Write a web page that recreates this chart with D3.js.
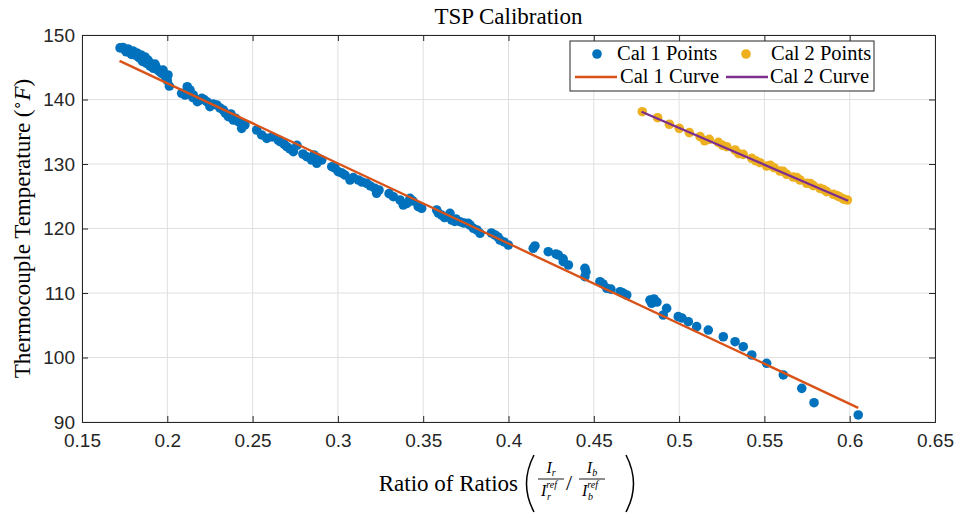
<!DOCTYPE html>
<html><head><meta charset="utf-8">
<script src="https://cdn.jsdelivr.net/npm/d3@7"></script>
<style>body{margin:0;background:#fff}svg{display:block}</style>
</head><body>
<svg id="c" width="957" height="513"></svg>
<script>
// ---- data ----
const cal1X = [0.1723,0.1740,0.1752,0.1770,0.1781,0.1799,0.1811,0.1822,0.1840,0.1846,0.1859,0.1869,0.1879,0.1887,0.1899,0.1918,0.1928,0.1947,0.1967,0.1975,0.1987,0.2000,0.2012,0.2004,
 0.2084,0.2104,0.2117,0.2133,0.2152,0.2176,0.2202,0.2231,0.2250,0.2268,0.2290,0.2309,0.2328,0.2358,0.2373,0.2387,0.2416,0.2436,0.2455,0.2444,0.2524,0.2553,0.2583,
 0.2614,0.2661,0.2684,0.2700,0.2719,0.2739,0.2795,0.2817,0.2846,0.2876,0.2905,0.2883,0.2964,0.2983,0.3002,0.3024,0.3042,0.3071,0.3120,0.3141,0.3169,0.3217,0.3227,0.3241,
 0.3325,0.3364,0.3383,0.3423,0.3440,0.3471,0.3491,0.3579,0.3589,0.3608,0.3657,0.3667,0.3692,0.3716,0.3739,0.3764,0.3774,0.3794,0.3815,0.3833,0.3921,0.3938,0.3950,0.3974,0.3999,
 0.4145,0.4155,0.4233,0.4278,0.4292,0.4321,0.4351,0.4448,0.4448,0.4454,0.4536,0.4554,0.4576,0.4654,0.4671,0.4693,0.4829,0.4839,0.4853,0.4927,0.4907,0.4995,0.5017,0.5054,0.5103,0.5171,
 0.5259,0.5328,0.5376,0.5426,0.5513,0.5611,0.5719,0.5791,0.6050,
 0.1760,0.1790,0.1830,0.1855,0.1895,0.1935,0.1960,0.2150,0.2190,0.2215,0.2340,0.2400,0.2650,0.2760,0.2860,0.3090,0.3190,0.3300,0.3405,0.3625,0.3685,0.3900,0.4320,0.4600,0.4870];
const cal1Y = [148.0,148.06,147.67,147.83,147.26,147.52,146.90,147.21,146.39,146.90,146.02,146.59,145.61,146.12,145.19,144.84,145.50,144.47,144.06,144.57,143.64,142.91,142.09,143.80,
 140.96,140.70,141.98,141.47,140.70,139.66,140.19,139.66,138.88,139.30,139.15,138.68,138.37,137.33,137.75,136.82,136.56,135.53,136.05,136.20,135.27,134.50,133.98,
 134.19,133.46,133.10,132.68,132.33,131.91,131.55,131.13,130.62,130.11,130.62,130.93,129.58,129.38,128.81,128.60,128.29,127.52,127.52,127.21,127.01,126.23,125.46,125.97,
 124.93,124.42,123.64,124.68,124.26,123.38,123.13,122.87,122.40,122.09,122.36,121.32,121.47,121.05,120.85,120.81,120.54,120.03,119.77,119.26,118.99,118.68,118.22,117.91,117.44,
 116.93,117.29,116.40,116.05,115.89,114.85,114.34,113.83,112.53,113.26,111.75,111.40,110.73,110.20,110.00,109.69,108.91,108.40,109.07,107.63,106.59,106.33,106.12,105.55,104.78,104.26,
 103.22,102.45,101.67,100.39,99.10,97.29,95.22,92.99,91.09,
 147.40,147.00,146.60,145.90,145.70,145.00,144.30,140.30,139.90,140.00,137.90,137.10,133.70,132.90,131.40,127.90,126.60,125.40,123.90,121.70,121.10,119.30,115.30,110.60,108.60];
const cal2X = [0.4784,0.4874,0.4943,0.5001,0.5060,0.5123,0.5177,0.5230,0.5279,0.5328,0.5376,0.5426,0.5474,0.5513,0.5556,0.5591,0.5631,0.5669,0.5709,0.5748,0.5787,0.5826,0.5865,0.5904,0.5943,0.5986,
 0.5150,0.5255,0.5350,0.5450,0.5535,0.5610,0.5690,0.5770,0.5845,0.5925,0.5965];
const cal2Y = [138.11,137.18,136.16,135.53,134.86,134.24,133.83,133.36,132.68,132.17,131.50,130.88,130.20,129.69,129.43,128.91,128.40,127.98,127.52,127.01,126.64,126.23,125.71,125.30,124.88,124.42,
 133.60,132.90,131.60,130.50,129.80,128.85,127.90,126.95,126.05,125.10,124.55];
const curve1X = [0.172, 0.605];
const curve1Y = [146.0, 92.2];
const curve2X = [0.478, 0.599];
const curve2Y = [138.1, 124.3];
const xTicks = [0.15,0.2,0.25,0.3,0.35,0.4,0.45,0.5,0.55,0.6,0.65];
const xTickLabels = ["0.15","0.2","0.25","0.3","0.35","0.4","0.45","0.5","0.55","0.6","0.65"];
const yTicks = [90,100,110,120,130,140,150];
const yTickLabels = ["90","100","110","120","130","140","150"];
const seriesNames = ["Cal 1 Points","Cal 2 Points","Cal 1 Curve","Cal 2 Curve"];
const titleText = "TSP Calibration";

// ---- drawing ----
const W = 957, H = 513;
const m = {l:82, r:22, t:35, b:91};
const svg = d3.select("#c");
const x = d3.scaleLinear().domain([0.15,0.65]).range([m.l, W-m.r]);
const y = d3.scaleLinear().domain([90,150]).range([H-m.b, m.t]);
const axCol = "#262626";
const serif = "'Liberation Serif','Times New Roman',serif";
const sans = "'Liberation Sans',Arial,Helvetica,sans-serif";
const colors = ["#0072BD","#EDB120","#D95319","#7E2F8E"];

// grid
const g = svg.append("g");
g.selectAll(".gx").data(xTicks).join("line")
 .attr("x1",d=>x(d)).attr("x2",d=>x(d)).attr("y1",y(90)).attr("y2",y(150))
 .attr("stroke","#dfdfdf").attr("stroke-width",1);
g.selectAll(".gy").data(yTicks).join("line")
 .attr("y1",d=>y(d)).attr("y2",d=>y(d)).attr("x1",x(0.15)).attr("x2",x(0.65))
 .attr("stroke","#dfdfdf").attr("stroke-width",1);

// points
const pts1 = cal1X.map((v,i)=>[v,cal1Y[i]]);
const pts2 = cal2X.map((v,i)=>[v,cal2Y[i]]);
svg.append("g").selectAll("circle").data(pts1).join("circle")
 .attr("cx",d=>x(d[0])).attr("cy",d=>y(d[1])).attr("r",4.8).attr("fill",colors[0]);
svg.append("g").selectAll("circle").data(pts2).join("circle")
 .attr("cx",d=>x(d[0])).attr("cy",d=>y(d[1])).attr("r",4.8).attr("fill",colors[1]);

// curves
const line = d3.line().x(d=>x(d[0])).y(d=>y(d[1]));
svg.append("path").datum(curve1X.map((v,i)=>[v,curve1Y[i]]))
 .attr("d",line).attr("fill","none").attr("stroke",colors[2]).attr("stroke-width",2.4);
svg.append("path").datum(curve2X.map((v,i)=>[v,curve2Y[i]]))
 .attr("d",line).attr("fill","none").attr("stroke",colors[3]).attr("stroke-width",2.4);

// axes
const fx = d => xTickLabels[xTicks.indexOf(d)];
const fy = d => yTickLabels[yTicks.indexOf(d)];
const xa = svg.append("g").attr("transform",`translate(0,${y(90)})`)
 .call(d3.axisBottom(x).tickValues(xTicks).tickFormat(fx).tickSize(-6).tickPadding(12));
const ya = svg.append("g").attr("transform",`translate(${x(0.15)},0)`)
 .call(d3.axisLeft(y).tickValues(yTicks).tickFormat(fy).tickSize(-6).tickPadding(7));
const xt = svg.append("g").attr("transform",`translate(0,${y(150)})`)
 .call(d3.axisTop(x).tickValues(xTicks).tickFormat("").tickSize(-6));
const yr = svg.append("g").attr("transform",`translate(${x(0.65)},0)`)
 .call(d3.axisRight(y).tickValues(yTicks).tickFormat("").tickSize(-6));
[xa,ya,xt,yr].forEach(a=>{
  a.select(".domain").attr("stroke",axCol).attr("stroke-width",1);
  a.selectAll(".tick line").attr("stroke",axCol).attr("stroke-width",1);
  a.selectAll(".tick text").attr("fill",axCol).attr("font-family",sans).attr("font-size",19);
});

// title
svg.append("text").attr("x",(x(0.15)+x(0.65))/2).attr("y",24).attr("text-anchor","middle")
 .attr("font-family",serif).attr("font-size",23).attr("fill","#000").text(titleText);

// y label
const yl = svg.append("text").attr("transform",`translate(30,${(y(90)+y(150))/2}) rotate(-90)`)
 .attr("text-anchor","middle").attr("font-family",serif).attr("font-size",23).attr("fill","#000");
yl.append("tspan").text("Thermocouple Temperature (");
yl.append("tspan").attr("font-size",15).attr("dy",-8).text("\u2218");
yl.append("tspan").attr("font-style","italic").attr("dy",8).text("F");
yl.append("tspan").text(")");

// x label
const xl = svg.append("g").attr("font-family",serif).attr("fill","#000");
xl.append("text").attr("x",518).attr("y",491).attr("text-anchor","end").attr("font-size",23).text("Ratio of Ratios");
xl.append("path").attr("d","M534,455 Q519,484 534,512").attr("fill","none").attr("stroke","#000").attr("stroke-width",1.5);
xl.append("path").attr("d","M626,455 Q641,484 626,512").attr("fill","none").attr("stroke","#000").attr("stroke-width",1.5);
function frac(cx, sub){
  const n = xl.append("text").attr("x",cx).attr("y",473).attr("text-anchor","middle").attr("font-size",16);
  n.append("tspan").attr("font-style","italic").text("I");
  n.append("tspan").attr("font-style","italic").attr("font-size",10).attr("dy",3).text(sub);
  xl.append("line").attr("x1",cx-13).attr("x2",cx+13).attr("y1",479).attr("y2",479).attr("stroke","#000").attr("stroke-width",0.9);
  const d = xl.append("text").attr("x",cx-10).attr("y",496).attr("font-size",16);
  d.append("tspan").attr("font-style","italic").text("I");
  d.append("tspan").attr("font-style","italic").attr("font-size",10).attr("dy",-8).text("ref");
  d.append("tspan").attr("font-style","italic").attr("font-size",10).attr("x",cx-4).attr("dy",12).text(sub);
}
frac(551,"r");
xl.append("text").attr("x",569).attr("y",490).attr("text-anchor","middle").attr("font-size",22).text("/");
frac(592,"b");

// legend
const lg = svg.append("g");
lg.append("rect").attr("x",570).attr("y",41).attr("width",304).attr("height",50)
 .attr("fill","#fff").attr("stroke",axCol).attr("stroke-width",1);
const lgItems = [
 {type:"pt", c:colors[0], mx:597, my:54, tx:617, name:seriesNames[0]},
 {type:"pt", c:colors[1], mx:746, my:54, tx:771, name:seriesNames[1]},
 {type:"ln", c:colors[2], mx:575, mx2:617, my:77, tx:620, name:seriesNames[2]},
 {type:"ln", c:colors[3], mx:726, mx2:768, my:77, tx:770, name:seriesNames[3]}
];
lgItems.forEach(it=>{
  if(it.type==="pt") lg.append("circle").attr("cx",it.mx).attr("cy",it.my).attr("r",4.8).attr("fill",it.c);
  else lg.append("line").attr("x1",it.mx).attr("x2",it.mx2).attr("y1",it.my).attr("y2",it.my).attr("stroke",it.c).attr("stroke-width",2.4);
  lg.append("text").attr("x",it.tx).attr("y",it.my+6).attr("font-family",serif).attr("font-size",20.5).attr("fill","#000").text(it.name);
});
</script>
</body></html>
